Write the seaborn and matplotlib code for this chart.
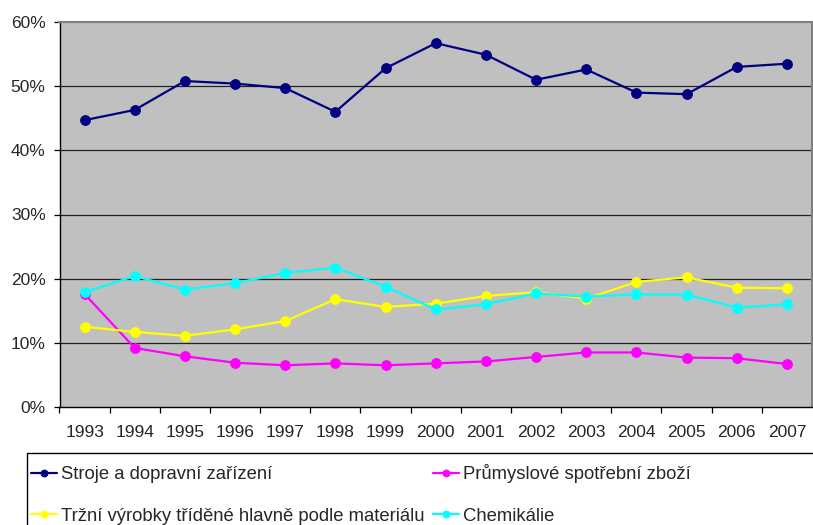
import pandas as pd
import matplotlib.pyplot as plt
import seaborn as sns
from matplotlib.patches import Rectangle
from matplotlib.ticker import FuncFormatter, MultipleLocator

# data (percent of exports)
years = list(range(1993, 2008))
stroje = [44.7, 46.3, 50.8, 50.4, 49.7, 46.0, 52.8, 56.7, 54.9, 51.0, 52.6, 49.0, 48.75, 53.0, 53.5]
prumysl = [17.6, 9.2, 7.9, 6.9, 6.5, 6.8, 6.5, 6.8, 7.1, 7.8, 8.5, 8.5, 7.7, 7.6, 6.7]
trzni = [12.5, 11.7, 11.1, 12.1, 13.4, 16.8, 15.6, 16.1, 17.3, 17.9, 16.9, 19.5, 20.2, 18.6, 18.5]
chem = [17.9, 20.4, 18.3, 19.3, 20.9, 21.7, 18.75, 15.2, 16.0, 17.7, 17.2, 17.55, 17.5, 15.5, 16.0]

names = ['Stroje a dopravní zařízení', 'Průmyslové spotřební zboží',
         'Tržní výrobky tříděné hlavně podle materiálu', 'Chemikálie']
colors = ['#000080', '#FF00FF', '#FFFF00', '#00FFFF']

df = pd.DataFrame({'rok': years * 4,
                   'podil': stroje + prumysl + trzni + chem,
                   'skupina': [n for n in names for _ in years]})

sns.set_theme(style='white')
plt.rcParams['font.family'] = ['Liberation Sans', 'DejaVu Sans']

W, H = 813, 525
fig = plt.figure(figsize=(W / 100, H / 100), dpi=100)
ax = fig.add_axes([59.5 / W, 1 - 407 / H, (812 - 59.5) / W, (407 - 22) / H])
ax.set_facecolor('#C0C0C0')

## the lines
for name, col in zip(names, colors):
    sub = df[df['skupina'] == name]
    sns.lineplot(data=sub, x='rok', y='podil', ax=ax, color=col,
                 marker='o', markersize=7, markeredgecolor=col,
                 linewidth=1.6, label=name, legend=False)

ax.set_xlim(1992.5, 2007.5)
ax.set_ylim(0, 60)
ax.set_xlabel('')
ax.set_ylabel('')

## grid + axes styling
for v in range(10, 60, 10):
    ax.axhline(v, color='#222222', lw=0.9, zorder=0.5)
ax.yaxis.set_major_locator(MultipleLocator(10))
ax.yaxis.set_major_formatter(FuncFormatter(lambda v, p: f'{v:.0f}%'))
ax.set_xticks(years)
ax.set_xticklabels([str(y) for y in years])
ax.set_xticks([y + 0.5 for y in years[:-1]] + [1992.5], minor=True)
ax.tick_params(axis='x', which='major', length=0, pad=13, labelsize=12.5)
ax.tick_params(axis='x', which='minor', length=4.5, width=0.9, color='black', direction='out')
ax.tick_params(axis='y', length=4, width=0.9, color='black', direction='out', pad=6, labelsize=12.5)
ax.tick_params(bottom=True, left=True, which='both')
for s in ['left', 'bottom']:
    ax.spines[s].set_color('black')
    ax.spines[s].set_linewidth(1.0)
for s in ['top', 'right']:
    ax.spines[s].set_color('#808080')
    ax.spines[s].set_linewidth(1.5)

## legend, column-wise order so rows read Stroje|Průmyslové, Tržní|Chemikálie
handles, labels = ax.get_legend_handles_labels()
order = [0, 2, 1, 3]
fig.add_artist(Rectangle((27 / W, -0.1), 1.0, (525 - 453) / H + 0.1,
                         transform=fig.transFigure, facecolor='white',
                         edgecolor='black', lw=1.0))
fig.legend([handles[i] for i in order], [labels[i] for i in order],
           loc='upper left', bbox_to_anchor=(31 / W, 1 - 464 / H),
           ncol=2, frameon=False, borderpad=0, borderaxespad=0,
           handlelength=1.4, handletextpad=0.2, columnspacing=0.5,
           labelspacing=1.35, markerscale=0.7, fontsize=13.3)

plt.savefig('out.png', dpi=100)
